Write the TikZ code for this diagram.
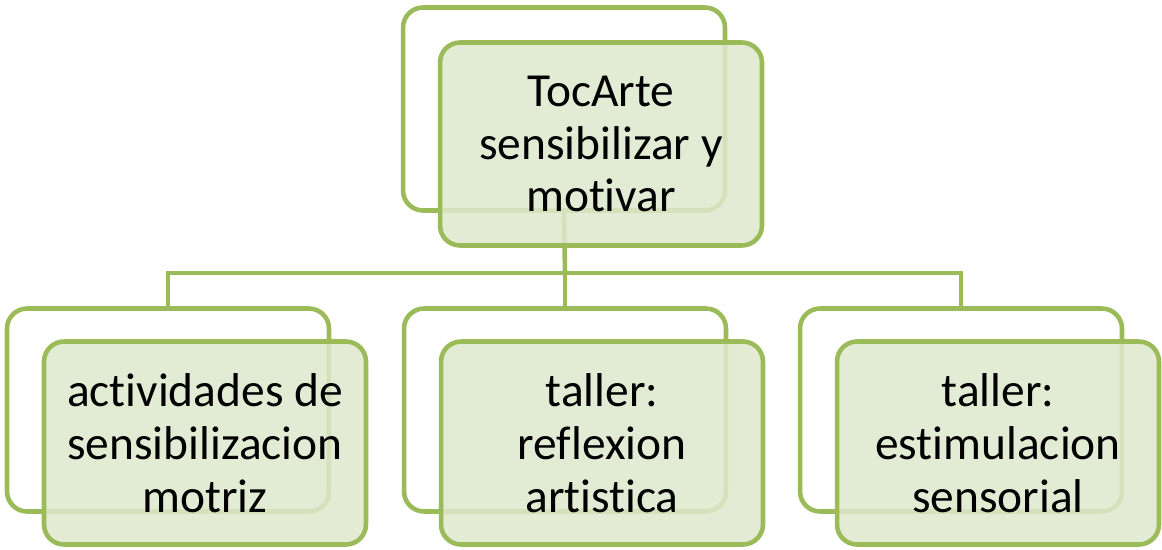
\documentclass[tikz,border=0pt]{standalone}
\usepackage{fontspec}
\setmainfont{Carlito}[Ligatures=CommonOff]
\usepackage{tikz}

\definecolor{olivegreen}{HTML}{9BBB59}
\definecolor{palegreen}{HTML}{DEE8CD}

\begin{document}
\begin{tikzpicture}[x=0.02cm, y=-0.02cm, line width=2.6pt,
    bnode/.style={draw=olivegreen, fill=white, rounded corners=0.4cm, minimum width=6.44cm, minimum height=4.06cm},
    fnode/.style={draw=olivegreen, fill=palegreen, fill opacity=0.85, text opacity=1, rounded corners=0.4cm, minimum width=6.44cm, minimum height=4.06cm, align=center, font=\fontsize{27}{30}\selectfont},
    conn/.style={draw=olivegreen}]
    \useasboundingbox (0,0) rectangle (1162,550);
    \coordinate (bus) at (565, 273);

    \node[bnode] (topb) at (564, 109) {};
    \node[bnode] (lb) at (168, 410) {};
    \node[bnode] (mb) at (565, 410) {};
    \node[bnode] (rb) at (961, 410) {};

    \draw[conn] (topb.south) -- (bus);
    \draw[conn] (bus) -| (lb.north);
    \draw[conn] (bus) -- (mb.north);
    \draw[conn] (bus) -| (rb.north);

    \node[fnode] (topf) at (601, 144) {TocArte\\sensibilizar y\\motivar};
    \node[fnode] (lf) at (205, 443) {actividades de\\sensibilizacion\\motriz};
    \node[fnode] (mf) at (602, 443) {taller:\\reflexion\\artistica};
    \node[fnode] (rf) at (998, 443) {taller:\\estimulacion\\sensorial};
\end{tikzpicture}
\end{document}
